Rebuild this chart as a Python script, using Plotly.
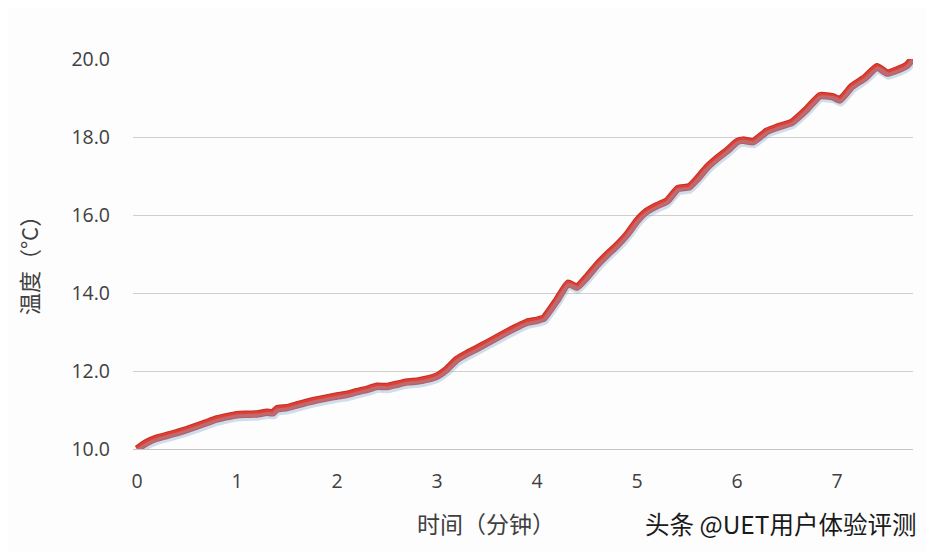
import plotly.graph_objects as go

time_min = [0.0, 0.1, 0.2, 0.3, 0.4, 0.5, 0.6, 0.7, 0.8, 0.9,
            1.0, 1.1, 1.2, 1.3, 1.36, 1.4, 1.5, 1.6, 1.7, 1.8, 1.9,
            2.0, 2.1, 2.2, 2.3, 2.4, 2.5, 2.6, 2.7, 2.8, 2.9,
            3.0, 3.1, 3.2, 3.3, 3.4, 3.5, 3.6, 3.7, 3.8, 3.9,
            4.0, 4.07, 4.2, 4.31, 4.4, 4.5, 4.6, 4.7, 4.8, 4.9,
            5.0, 5.1, 5.2, 5.3, 5.41, 5.52, 5.6, 5.7, 5.8, 5.9,
            6.0, 6.06, 6.16, 6.3, 6.4, 6.55, 6.7, 6.83, 6.96, 7.03,
            7.15, 7.28, 7.4, 7.5, 7.6, 7.7, 7.76]
temp_c = [10.0, 10.17, 10.28, 10.35, 10.42, 10.5, 10.59, 10.68, 10.77, 10.83,
          10.88, 10.89, 10.9, 10.94, 10.93, 11.03, 11.06, 11.13, 11.2, 11.26, 11.31,
          11.36, 11.4, 11.47, 11.53, 11.61, 11.6, 11.66, 11.72, 11.74, 11.79,
          11.87, 12.05, 12.3, 12.45, 12.58, 12.72, 12.86, 13.0, 13.13, 13.25,
          13.3, 13.36, 13.82, 14.25, 14.15, 14.41, 14.72, 14.98, 15.22, 15.5,
          15.85, 16.1, 16.24, 16.36, 16.68, 16.72, 16.92, 17.22, 17.45, 17.65,
          17.88, 17.92, 17.88, 18.15, 18.25, 18.38, 18.72, 19.06, 19.03, 18.95,
          19.3, 19.52, 19.8, 19.64, 19.72, 19.84, 20.03]

y_ticks = [10, 12, 14, 16, 18, 20]
y_tick_text = ["10.0", "12.0", "14.0", "16.0", "18.0", "20.0"]
x_ticks = [0, 1, 2, 3, 4, 5, 6, 7]

fig = go.Figure()
# soft shadow drawn on a slightly offset overlay axis
fig.add_trace(go.Scatter(x=time_min, y=temp_c, mode="lines", xaxis="x2", yaxis="y2",
                         line=dict(color="rgba(140,175,210,0.4)", width=7, shape="spline", smoothing=0.4),
                         hoverinfo="skip", showlegend=False))
fig.add_trace(go.Scatter(x=time_min, y=temp_c, mode="lines",
                         line=dict(color="#bf3128", width=7.5, shape="spline", smoothing=0.4),
                         showlegend=False))
fig.add_trace(go.Scatter(x=time_min, y=temp_c, mode="lines",
                         line=dict(color="#e23d31", width=5.5, shape="spline", smoothing=0.4),
                         showlegend=False))

tick_font = dict(family="Open Sans, Noto Sans, sans-serif", size=19.5, color="#404040")
cjk = "Noto Sans CJK SC, sans-serif"

fig.update_layout(
    width=926, height=544,
    margin=dict(l=125, r=21, t=51, b=103),
    paper_bgcolor="#fdfdfd", plot_bgcolor="#fdfdfd",
    xaxis=dict(range=[-0.04, 7.76], tickvals=x_ticks, showgrid=False, zeroline=False,
               showline=True, linecolor="#c4c4c4", linewidth=1,
               ticks="", ticklabelstandoff=15, tickfont=tick_font),
    yaxis=dict(range=[10, 20], tickvals=y_ticks, ticktext=y_tick_text,
               showgrid=True, gridcolor="#cfcfcf", gridwidth=1, zeroline=False,
               ticks="", ticklabelstandoff=22, tickfont=tick_font),
    xaxis2=dict(range=[-0.05, 7.75], overlaying="x", visible=False),
    yaxis2=dict(range=[10.08, 20.08], overlaying="y", visible=False),
    annotations=[
        dict(text="时间（分钟）", xref="paper", yref="paper", x=0.4526, y=-0.19,
             xanchor="center", yanchor="middle", showarrow=False,
             font=dict(family=cjk, size=23, color="#404040")),
        dict(text="温度（°C）", xref="paper", yref="paper", x=-0.1346, y=0.4846,
             xanchor="center", yanchor="middle", textangle=-90, showarrow=False,
             font=dict(family=cjk, size=22, color="#404040")),
        dict(text="头条 @UET用户体验评测", xref="paper", yref="paper", x=1.006, y=-0.19,
             xanchor="right", yanchor="middle", showarrow=False,
             font=dict(family=cjk, size=24.5, color="#1a1a1a")),
    ],
)

fig.write_html("out.html")
